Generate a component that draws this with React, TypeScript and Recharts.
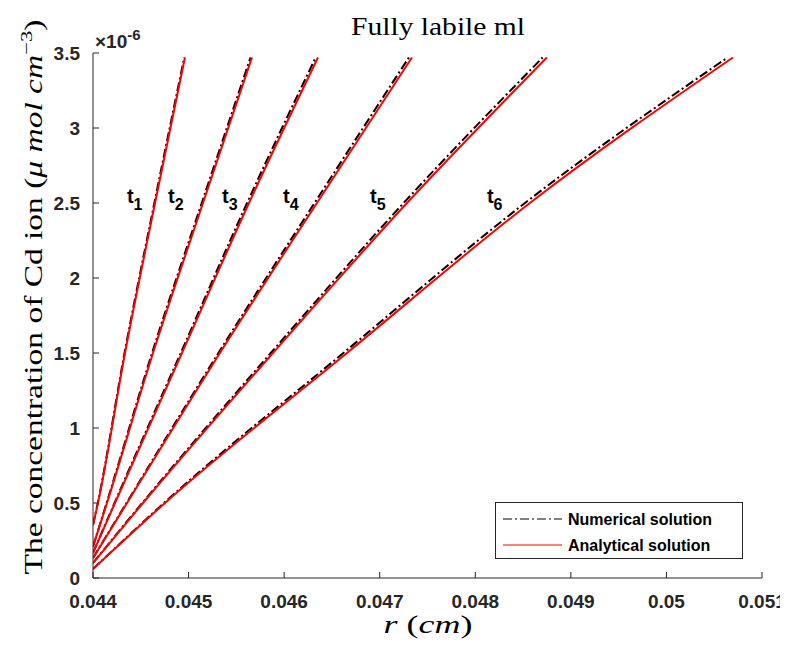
import { LineChart, Line, XAxis, YAxis, ReferenceDot } from "recharts"

// r in cm, concentration in units of 1e-6 umol/cm^3
const rTicks = [0.044, 0.045, 0.046, 0.047, 0.048, 0.049, 0.05, 0.051]
const cTicks = [0, 0.5, 1, 1.5, 2, 2.5, 3, 3.5]

const timeLabels = ["1", "2", "3", "4", "5", "6"]
const startConc = [0.353, 0.209, 0.167, 0.133, 0.1, 0.06]
const concLevels = [0.5, 1.5, 2.5, 3.47]

const rAnalytic = [
  [0.044, 0.044052, 0.044335, 0.044649, 0.044962],
  [0.044, 0.044146, 0.044628, 0.045151, 0.045663],
  [0.044, 0.04423, 0.044931, 0.045632, 0.046354],
  [0.044, 0.044356, 0.045328, 0.046343, 0.047337],
  [0.044, 0.044523, 0.045883, 0.047285, 0.048749],
  [0.044, 0.044753, 0.046657, 0.048571, 0.050695],
]

const rNumeric = [
  [0.044, 0.04405, 0.04433, 0.044642, 0.044955],
  [0.044, 0.044142, 0.044618, 0.045138, 0.045648],
  [0.044, 0.044225, 0.044918, 0.045612, 0.04633],
  [0.044, 0.04435, 0.045312, 0.046318, 0.047305],
  [0.044, 0.044515, 0.04586, 0.04725, 0.048705],
  [0.044, 0.044742, 0.04662, 0.04852, 0.05064],
]

// where the t_i labels sit
const labelR = [0.044355, 0.044785, 0.04535, 0.045988, 0.046898, 0.048122]
const labelC = 2.5

const AXIS = "#262626"
const SANS = "'Liberation Sans', Arial, sans-serif"
const SERIF = "'Liberation Serif', 'Times New Roman', serif"

const W = 780
const H = 631

const series = rAnalytic.map((rs, i) => {
  const conc = [startConc[i], ...concLevels]
  return {
    analytic: rs.map((r, j) => ({ r, c: conc[j] })),
    numeric: rNumeric[i].map((r, j) => ({ r, c: conc[j] })),
  }
})

const fmtR = (v: number) => Number(v.toFixed(3)).toString()

const TimeLabel = (props: any) => {
  const { cx, cy, idx } = props
  return (
    <text x={cx} y={cy} fontFamily={SANS} fontWeight="bold" fontSize={20} fill="#000">
      t
      <tspan fontSize={16} dy={7}>
        {timeLabels[idx]}
      </tspan>
    </text>
  )
}

export default function App() {
  return (
    <div style={{ position: "relative", width: W, height: H }}>
      <LineChart width={W} height={H} margin={{ top: 45, right: 26, left: 25, bottom: 31 }}>
        <XAxis
          type="number"
          dataKey="r"
          domain={[0.044, 0.051]}
          ticks={rTicks}
          tickFormatter={fmtR}
          allowDataOverflow
          height={30}
          stroke={AXIS}
          tickSize={-6}
          tickMargin={23}
          tick={{ fill: AXIS, fontFamily: SANS, fontWeight: "bold", fontSize: 19 }}
        />
        <YAxis
          type="number"
          dataKey="c"
          domain={[0, 3.5]}
          ticks={cTicks}
          allowDataOverflow
          width={60}
          stroke={AXIS}
          tickSize={-6}
          tickMargin={19}
          tick={{ fill: AXIS, fontFamily: SANS, fontWeight: "bold", fontSize: 19 }}
        />
        {series.map((s, i) => (
          <Line
            key={"num" + i}
            data={s.numeric}
            dataKey="c"
            type="monotone"
            stroke="#000"
            strokeWidth={2}
            strokeDasharray="9 3 2 3"
            dot={false}
            isAnimationActive={false}
          />
        ))}
        {series.map((s, i) => (
          <Line
            key={"ana" + i}
            data={s.analytic}
            dataKey="c"
            type="monotone"
            stroke="#ff0000"
            strokeWidth={2}
            dot={false}
            isAnimationActive={false}
          />
        ))}
        {labelR.map((r, i) => (
          <ReferenceDot
            key={"lab" + i}
            x={r}
            y={labelC}
            r={0}
            shape={(p: any) => <TimeLabel {...p} idx={i} />}
          />
        ))}
      </LineChart>

      <svg
        width={W}
        height={H}
        style={{ position: "absolute", left: 0, top: 0, pointerEvents: "none" }}
      >
        {/* title */}
        <text x={430} y={27} textAnchor="middle" fontFamily={SERIF} fontSize={25} fill="#000" textLength={174} lengthAdjust="spacingAndGlyphs">
          Fully labile ml
        </text>
        {/* exponent */}
        <text x={87} y={40} fontFamily={SANS} fontWeight="bold" fontSize={19} fill={AXIS}>
          ×10
          <tspan fontSize={15} dy={-8}>
            -6
          </tspan>
        </text>
        {/* y label */}
        <text
          transform="translate(34,289) rotate(-90)"
          textAnchor="middle"
          fontFamily={SERIF}
          fontSize={25}
          fill="#000"
          textLength={555}
          lengthAdjust="spacingAndGlyphs"
        >
          The concentration of Cd ion (<tspan fontStyle="italic">μ mol cm</tspan>
          <tspan fontSize={17} dy={-10}>−3</tspan>
          <tspan dy={10}>)</tspan>
        </text>
        {/* x label */}
        <text x={420} y={625} textAnchor="middle" fontFamily={SERIF} fontSize={26} fill="#000" textLength={89} lengthAdjust="spacingAndGlyphs">
          <tspan fontStyle="italic">r</tspan> (<tspan fontStyle="italic">cm</tspan>)
        </text>
        {/* legend */}
        <rect x={487.5} y={494.5} width={247} height={56} fill="#fff" stroke={AXIS} strokeWidth={1} />
        <line x1={495} x2={554} y1={511} y2={511} stroke="#000" strokeWidth={1} strokeDasharray="9 3 2 3" />
        <line x1={495} x2={554} y1={537} y2={537} stroke="#ff0000" strokeWidth={1} />
        <text x={560} y={517} fontFamily={SANS} fontWeight="bold" fontSize={16} fill="#000">
          Numerical solution
        </text>
        <text x={560} y={543} fontFamily={SANS} fontWeight="bold" fontSize={16} fill="#000">
          Analytical solution
        </text>
      </svg>
    </div>
  )
}
